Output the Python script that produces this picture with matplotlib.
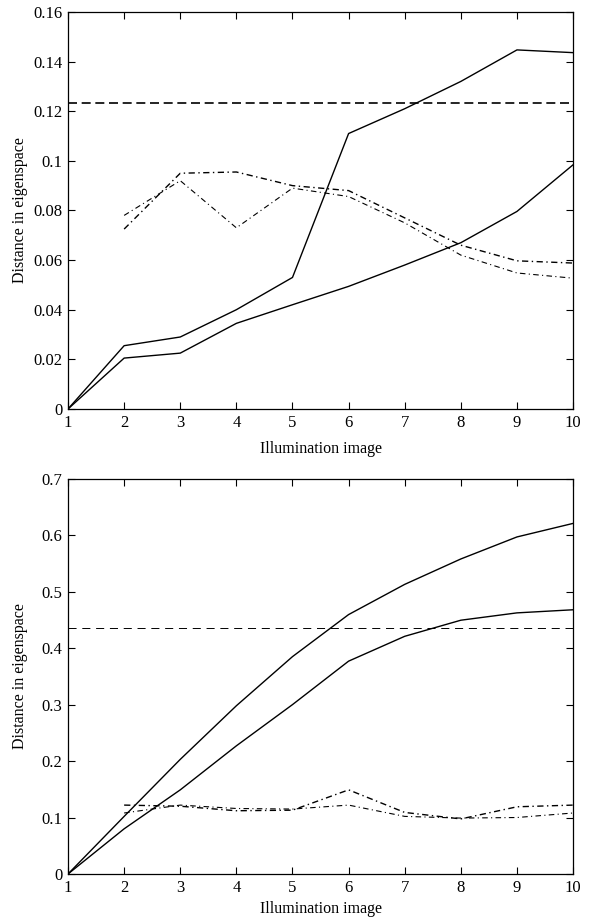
import numpy as np
import matplotlib.pyplot as plt

# eje x comun: imagen de iluminacion
imagenes = [1, 2, 3, 4, 5, 6, 7, 8, 9, 10]
imagenes_dd = [2, 3, 4, 5, 6, 7, 8, 9, 10]

# grafica superior
sup_solida_a = [0, 0.0255, 0.029, 0.040, 0.053, 0.111, 0.121, 0.132, 0.1447, 0.1436]
sup_solida_b = [0, 0.0205, 0.0225, 0.0345, 0.042, 0.0494, 0.058, 0.067, 0.0796, 0.0984]
sup_umbral = 0.1232
sup_dd_a = [0.0725, 0.095, 0.0955, 0.090, 0.088, 0.077, 0.066, 0.0597, 0.0588]
sup_dd_b = [0.078, 0.092, 0.073, 0.089, 0.0856, 0.075, 0.062, 0.0548, 0.0527]

# grafica inferior
inf_solida_a = [0, 0.102, 0.203, 0.298, 0.385, 0.4595, 0.513, 0.558, 0.597, 0.621]
inf_solida_b = [0, 0.080, 0.149, 0.227, 0.300, 0.377, 0.421, 0.4495, 0.4625, 0.468]
inf_umbral = 0.436
inf_dd_a = [0.122, 0.120, 0.112, 0.113, 0.149, 0.109, 0.0975, 0.119, 0.122]
inf_dd_b = [0.108, 0.122, 0.116, 0.115, 0.122, 0.102, 0.099, 0.100, 0.108]

plt.rcParams['font.family'] = ['Liberation Serif', 'DejaVu Serif']
plt.rcParams['font.size'] = 11.5

fig = plt.figure(figsize=(5.9, 9.19), dpi=100)
ax1 = fig.add_axes([0.1153, 0.555, 0.856, 0.432])
ax2 = fig.add_axes([0.1153, 0.049, 0.856, 0.430])


def dibujar(ax, sa, sb, umbral, da, db, ylim, yticks, ytick_labels, estilo_umbral):
    lw_u, patron_u = estilo_umbral
    ax.plot(imagenes, sa, color='black', lw=1.0)
    ax.plot(imagenes, sb, color='black', lw=1.0)
    ax.axhline(umbral, color='black', lw=lw_u, ls=(0, patron_u))
    ax.plot(imagenes_dd, da, color='black', lw=1.0, ls=(0, (4.5, 2.5, 1, 2.5)))
    ax.plot(imagenes_dd, db, color='black', lw=0.8, ls=(0, (5, 3, 1, 3)))
    ax.set_xlim(1, 10)
    ax.set_ylim(*ylim)
    ax.set_xticks(imagenes)
    ax.set_yticks(yticks)
    ax.set_yticklabels(ytick_labels)
    ax.tick_params(direction='in', top=True, right=True, length=5, width=0.8,
                   pad=4, labelsize=12)
    for s in ax.spines.values():
        s.set_linewidth(0.9)
    ax.set_xlabel('Illumination image')
    ax.set_ylabel('Distance in eigenspace')
    ax.yaxis.set_label_coords(-0.079, 0.5)


dibujar(ax1, sup_solida_a, sup_solida_b, sup_umbral, sup_dd_a, sup_dd_b,
        (0, 0.16), np.arange(0, 0.161, 0.02),
        ['0', '0.02', '0.04', '0.06', '0.08', '0.1', '0.12', '0.14', '0.16'],
        (1.2, (5.4, 2.8)))
dibujar(ax2, inf_solida_a, inf_solida_b, inf_umbral, inf_dd_a, inf_dd_b,
        (0, 0.7), np.arange(0, 0.71, 0.1),
        ['0', '0.1', '0.2', '0.3', '0.4', '0.5', '0.6', '0.7'],
        (0.7, (8.3, 5.9)))
ax1.xaxis.set_label_coords(0.5, -0.080)
ax2.xaxis.set_label_coords(0.5, -0.068)

fig.savefig('out.png', dpi=100)
